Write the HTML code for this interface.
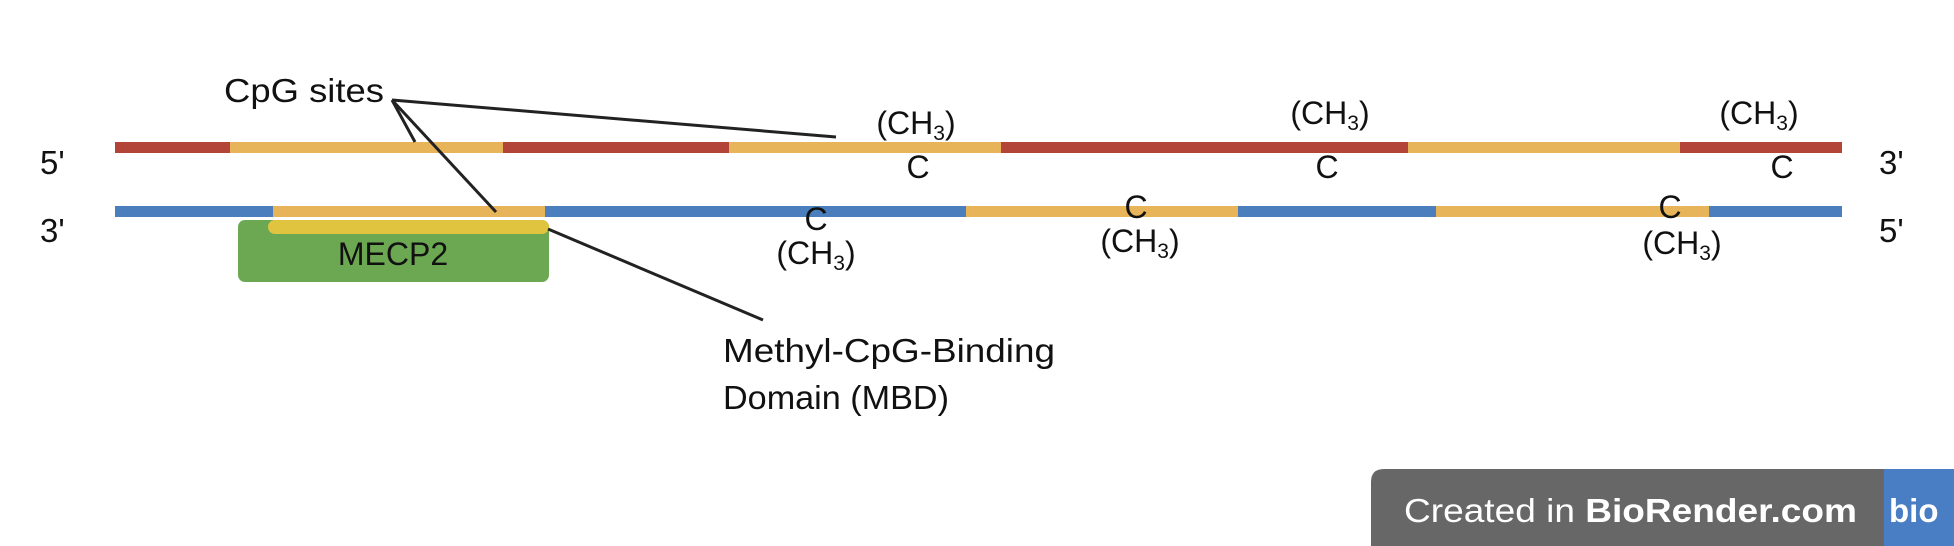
<!DOCTYPE html>
<html><head><meta charset="utf-8"><style>
html,body{margin:0;padding:0;background:#fff;}
body{width:1954px;height:546px;position:relative;overflow:hidden;font-family:"Liberation Sans",sans-serif;}
</style></head><body>
<svg width="1954" height="546" xmlns="http://www.w3.org/2000/svg" style="position:absolute;left:0;top:0" font-family="Liberation Sans, sans-serif">
<rect x="115" y="142" width="115" height="11" fill="#b34538"/>
<rect x="230" y="142" width="273" height="11" fill="#e8b45a"/>
<rect x="503" y="142" width="226" height="11" fill="#b34538"/>
<rect x="729" y="142" width="272" height="11" fill="#e8b45a"/>
<rect x="1001" y="142" width="407" height="11" fill="#b34538"/>
<rect x="1408" y="142" width="272" height="11" fill="#e8b45a"/>
<rect x="1680" y="142" width="162" height="11" fill="#b34538"/>
<rect x="115" y="206" width="158" height="11" fill="#4a7ebd"/>
<rect x="273" y="206" width="272" height="11" fill="#e8b45a"/>
<rect x="545" y="206" width="421" height="11" fill="#4a7ebd"/>
<rect x="966" y="206" width="272" height="11" fill="#e8b45a"/>
<rect x="1238" y="206" width="198" height="11" fill="#4a7ebd"/>
<rect x="1436" y="206" width="273" height="11" fill="#e8b45a"/>
<rect x="1709" y="206" width="133" height="11" fill="#4a7ebd"/>
<rect x="238" y="220" width="311" height="62" rx="7" fill="#6ca852"/>
<rect x="268" y="220" width="281" height="14" rx="7" fill="#e0c440"/>
<text x="393" y="265" font-size="32" text-anchor="middle" fill="#111">MECP2</text>
<g stroke="#222" stroke-width="3" fill="none">
<line x1="392" y1="100" x2="836" y2="137"/>
<line x1="392" y1="100" x2="415" y2="142"/>
<line x1="392" y1="100" x2="496" y2="212"/>
<line x1="548" y1="229" x2="763" y2="320"/>
</g>
<g font-size="33" fill="#111">
<text x="224" y="102" textLength="160" lengthAdjust="spacingAndGlyphs">CpG sites</text>
<text x="723" y="362" textLength="332" lengthAdjust="spacingAndGlyphs">Methyl-CpG-Binding</text>
<text x="723" y="409" textLength="226" lengthAdjust="spacingAndGlyphs">Domain (MBD)</text>
<text x="40" y="174">5'</text>
<text x="40" y="242">3'</text>
<text x="1879" y="174">3'</text>
<text x="1879" y="242">5'</text>
</g>
<g font-size="32" fill="#111" text-anchor="middle">
<text x="916" y="134">(CH<tspan font-size="21" dy="6">3</tspan><tspan dy="-6">)</tspan></text>
<text x="1330" y="124">(CH<tspan font-size="21" dy="6">3</tspan><tspan dy="-6">)</tspan></text>
<text x="1759" y="124">(CH<tspan font-size="21" dy="6">3</tspan><tspan dy="-6">)</tspan></text>
<text x="918" y="178">C</text>
<text x="1327" y="178">C</text>
<text x="1782" y="178">C</text>
<text x="816" y="230">C</text>
<text x="1136" y="218">C</text>
<text x="1670" y="218">C</text>
<text x="816" y="264">(CH<tspan font-size="21" dy="6">3</tspan><tspan dy="-6">)</tspan></text>
<text x="1140" y="252">(CH<tspan font-size="21" dy="6">3</tspan><tspan dy="-6">)</tspan></text>
<text x="1682" y="254">(CH<tspan font-size="21" dy="6">3</tspan><tspan dy="-6">)</tspan></text>
</g>
<path d="M1371 546 V482 Q1371 469 1384 469 H1954 V546 Z" fill="#676767"/>
<rect x="1884" y="469" width="70" height="77" fill="#4a7ec4"/>
<text x="1404" y="522" font-size="33" fill="#fff" textLength="453" lengthAdjust="spacingAndGlyphs">Created in <tspan font-weight="bold">BioRender.com</tspan></text>
<text x="1889" y="522" font-size="33" font-weight="bold" fill="#fff">bio</text>
</svg>
</body></html>
